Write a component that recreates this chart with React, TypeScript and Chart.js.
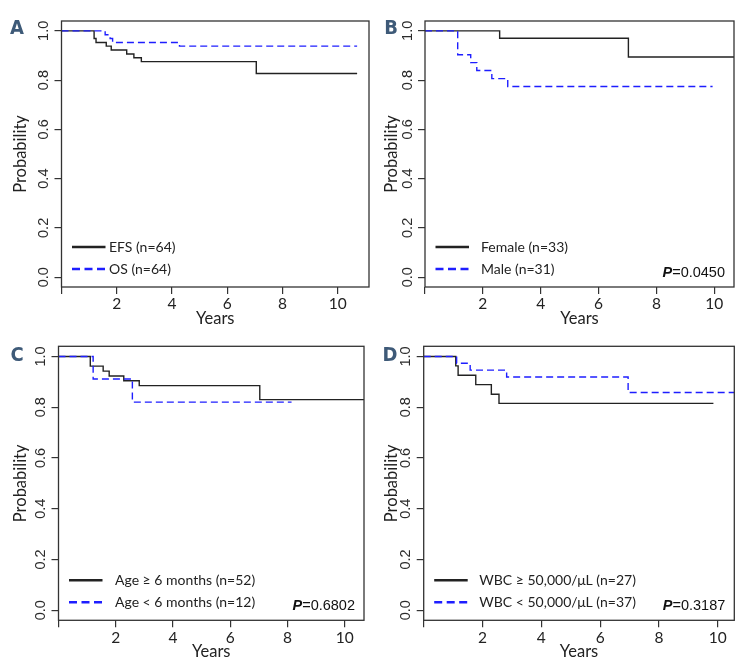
import React, { useEffect, useRef } from 'react';
import { Chart, registerables } from 'chart.js';
Chart.register(...registerables);

// ---------- data ----------
const X_TICKS = [0, 2, 4, 6, 8, 10];
const Y_TICKS = [0, 0.2, 0.4, 0.6, 0.8, 1.0];

// Panel A
const aEfsT = [0, 1.18, 1.25, 1.62, 1.8, 2.36, 2.62, 2.89, 7.05, 10.7];
const aEfsS = [1, 0.969, 0.953, 0.938, 0.922, 0.906, 0.891, 0.875, 0.827, 0.827];
const aOsT = [0, 1.58, 1.76, 1.85, 4.27, 10.7];
const aOsS = [1, 0.984, 0.969, 0.953, 0.938, 0.938];

// Panel B
const bFemT = [0, 2.58, 7.03, 10.7];
const bFemS = [1, 0.97, 0.894, 0.894];
const bMalT = [0, 1.13, 1.58, 1.79, 2.31, 2.86, 9.94];
const bMalS = [1, 0.903, 0.871, 0.839, 0.806, 0.774, 0.774];

// Panel C
const cOldT = [0, 1.11, 1.56, 1.77, 2.28, 2.82, 7.03, 10.7];
const cOldS = [1, 0.962, 0.942, 0.923, 0.904, 0.885, 0.83, 0.83];
const cYngT = [0, 1.21, 2.58, 8.14];
const cYngS = [1, 0.911, 0.82, 0.82];

// Panel D
const dHiT = [0, 1.09, 1.17, 1.77, 2.3, 2.56, 9.85];
const dHiS = [1, 0.963, 0.926, 0.889, 0.851, 0.815, 0.815];
const dLoT = [0, 1.12, 1.58, 2.82, 6.95, 10.6];
const dLoS = [1, 0.973, 0.946, 0.919, 0.858, 0.858];

// ---------- style ----------
const W = 371;
const H = 333;
const BLACK = '#222222';
const BLUE = '#1e1eff';
const FRAME = '#333333';

type Series = { label: string; t: number[]; s: number[]; color: string; dashed: boolean };
type PanelCfg = {
  letter: string;
  letterX: number;
  letterY: number;
  area: { left: number; top: number; right: number; bottom: number };
  xMax: number;
  legendTextOff: number;
  pValue: string | null;
  series: Series[];
};

const panels: PanelCfg[] = [
  {
    letter: 'A', letterX: 17, letterY: 34,
    area: { left: 61.5, top: 21, right: 369, bottom: 287 },
    xMax: 11.13, legendTextOff: 47.5, pValue: null,
    series: [
      { label: 'EFS (n=64)', t: aEfsT, s: aEfsS, color: BLACK, dashed: false },
      { label: 'OS (n=64)', t: aOsT, s: aOsS, color: BLUE, dashed: true },
    ],
  },
  {
    letter: 'B', letterX: 20, letterY: 33.5,
    area: { left: 54, top: 21, right: 363, bottom: 287 },
    xMax: 10.68, legendTextOff: 56, pValue: '0.0450',
    series: [
      { label: 'Female (n=33)', t: bFemT, s: bFemS, color: BLACK, dashed: false },
      { label: 'Male (n=31)', t: bMalT, s: bMalS, color: BLUE, dashed: true },
    ],
  },
  {
    letter: 'C', letterX: 17, letterY: 27.5,
    area: { left: 58.5, top: 13.3, right: 364, bottom: 287.3 },
    xMax: 10.67, legendTextOff: 56.5, pValue: '0.6802',
    series: [
      { label: 'Age \u2265 6 months (n=52)', t: cOldT, s: cOldS, color: BLACK, dashed: false },
      { label: 'Age < 6 months (n=12)', t: cYngT, s: cYngS, color: BLUE, dashed: true },
    ],
  },
  {
    letter: 'D', letterX: 19, letterY: 27.5,
    area: { left: 52.7, top: 13.3, right: 363.3, bottom: 287.3 },
    xMax: 10.56, legendTextOff: 55.6, pValue: '0.3187',
    series: [
      { label: 'WBC \u2265 50,000/\u03bcL (n=27)', t: dHiT, s: dHiS, color: BLACK, dashed: false },
      { label: 'WBC < 50,000/\u03bcL (n=37)', t: dLoT, s: dLoS, color: BLUE, dashed: true },
    ],
  },
];

function KMPanel({ p, x, y }: { p: PanelCfg; x: number; y: number }) {
  const ref = useRef<HTMLCanvasElement | null>(null);
  useEffect(() => {
    const canvas = ref.current;
    if (!canvas) return;
    const decor = {
      id: 'kmDecor',
      afterDraw(chart: any) {
        const ctx = chart.ctx as CanvasRenderingContext2D;
        const ca = chart.chartArea;
        ctx.save();
        // frame
        ctx.strokeStyle = FRAME;
        ctx.lineWidth = 1.3;
        ctx.setLineDash([]);
        ctx.strokeRect(ca.left, ca.top, ca.right - ca.left, ca.bottom - ca.top);
        // rotated y tick labels
        ctx.fillStyle = '#2a2a2a';
        ctx.font = '14.5px "Liberation Sans", Arial, sans-serif';
        ctx.textAlign = 'center';
        ctx.textBaseline = 'middle';
        const ys = chart.scales.y;
        Y_TICKS.forEach((v) => {
          const py = ys.getPixelForValue(v);
          ctx.save();
          ctx.translate(ca.left - 17.5, py);
          ctx.rotate(-Math.PI / 2);
          ctx.fillText(v.toFixed(1), 0, 0);
          ctx.restore();
        });
        // legend
        const rows = [ca.bottom - 40, ca.bottom - 18];
        p.series.forEach((s, i) => {
          const ry = rows[i];
          ctx.beginPath();
          ctx.strokeStyle = s.color;
          ctx.lineWidth = 2.6;
          ctx.setLineDash(s.dashed ? [8, 4.5] : []);
          ctx.moveTo(ca.left + 10.5, ry);
          ctx.lineTo(ca.left + 44, ry);
          ctx.stroke();
          ctx.setLineDash([]);
          ctx.fillStyle = '#222';
          ctx.font = '14px Lato, "Open Sans", sans-serif';
          ctx.textAlign = 'left';
          ctx.textBaseline = 'middle';
          ctx.fillText(s.label, ca.left + p.legendTextOff, ry + 0.5);
        });
        // p value
        if (p.pValue) {
          const rest = '=' + p.pValue;
          const py = ca.bottom - 14;
          ctx.textBaseline = 'middle';
          ctx.textAlign = 'left';
          ctx.font = '14.5px "Liberation Sans", Arial, sans-serif';
          const wRest = ctx.measureText(rest).width;
          ctx.font = 'italic bold 14.5px "Liberation Sans", Arial, sans-serif';
          const wP = ctx.measureText('P').width;
          const x0 = ca.right - 9 - wRest - wP;
          ctx.fillStyle = '#111';
          ctx.fillText('P', x0, py);
          ctx.font = '14.5px "Liberation Sans", Arial, sans-serif';
          ctx.fillText(rest, x0 + wP, py);
        }
        // panel letter
        ctx.fillStyle = '#3e5a78';
        ctx.font = 'bold 20px "Liberation Sans Narrow", "DejaVu Sans Condensed", "Roboto", sans-serif';
        ctx.textAlign = 'center';
        ctx.textBaseline = 'alphabetic';
        ctx.fillText(p.letter, p.letterX, p.letterY);
        ctx.restore();
      },
    };
    const chart = new Chart(canvas, {
      type: 'line',
      data: {
        datasets: p.series.map((s) => ({
          label: s.label,
          data: s.t.map((t, i) => ({ x: t, y: s.s[i] })),
          borderColor: s.color,
          backgroundColor: s.color,
          borderWidth: 1.4,
          borderDash: s.dashed ? [7, 4] : [],
          stepped: true,
          pointRadius: 0,
          fill: false,
          order: s.dashed ? 1 : 2,
        })),
      },
      options: {
        animation: false,
        responsive: false,
        devicePixelRatio: 1,
        layout: { padding: { left: 0, top: p.area.top, right: W - p.area.right, bottom: 0 } },
        plugins: { legend: { display: false }, tooltip: { enabled: false } },
        scales: {
          x: {
            type: 'linear',
            min: 0,
            max: p.xMax,
            afterBuildTicks: (s: any) => {
              s.ticks = X_TICKS.map((v) => ({ value: v }));
            },
            afterFit: (s: any) => {
              s.height = H - p.area.bottom;
            },
            grid: { drawOnChartArea: false, drawTicks: true, tickLength: 7, color: FRAME, lineWidth: 1.2 },
            border: { display: false },
            ticks: {
              padding: 1,
              color: '#222',
              font: { family: 'Lato, "Open Sans", sans-serif', size: 15.5 },
              maxRotation: 0,
              autoSkip: false,
              callback: (v: any) => (v === 0 ? '' : String(v)),
            },
            title: {
              display: true,
              text: 'Years',
              color: '#222',
              font: { family: 'Lato, "Open Sans", sans-serif', size: 16.5 },
              padding: { top: 0, bottom: 4 },
            },
          },
          y: {
            type: 'linear',
            min: -0.04,
            max: 1.04,
            afterBuildTicks: (s: any) => {
              s.ticks = Y_TICKS.map((v) => ({ value: v }));
            },
            afterFit: (s: any) => {
              s.width = p.area.left;
            },
            grid: { drawOnChartArea: false, drawTicks: true, tickLength: 7, color: FRAME, lineWidth: 1.2 },
            border: { display: false },
            ticks: { display: false },
            title: {
              display: true,
              text: 'Probability',
              color: '#222',
              font: { family: 'Lato, "Open Sans", sans-serif', size: 16.5 },
              padding: { top: 11, bottom: 0 },
            },
          },
        },
      },
      plugins: [decor],
    } as any);
    return () => chart.destroy();
  }, [p]);
  return (
    <canvas
      ref={ref}
      width={W}
      height={H}
      style={{ position: 'absolute', left: x, top: y, width: W, height: H }}
    />
  );
}

export default function App() {
  return (
    <div style={{ position: 'absolute', left: 0, top: 0, width: 742, height: 666, background: '#fff' }}>
      <KMPanel p={panels[0]} x={0} y={0} />
      <KMPanel p={panels[1]} x={371} y={0} />
      <KMPanel p={panels[2]} x={0} y={333} />
      <KMPanel p={panels[3]} x={371} y={333} />
    </div>
  );
}
